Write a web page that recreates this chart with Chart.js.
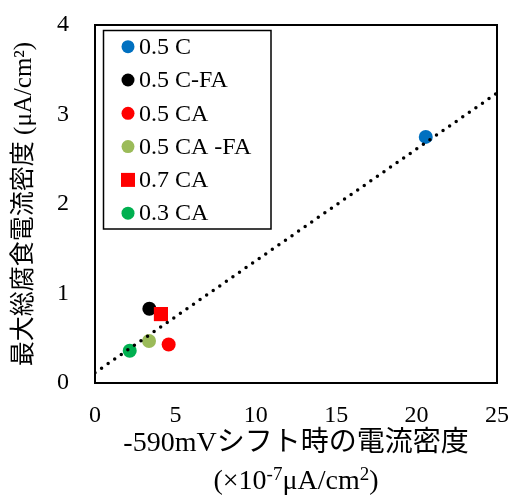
<!DOCTYPE html>
<html>
<head>
<meta charset="utf-8">
<script src="https://cdn.jsdelivr.net/npm/chart.js@4.4.1/dist/chart.umd.min.js"></script>
<style>
  html, body { margin: 0; padding: 0; background: #ffffff; }
  #wrap { width: 514px; height: 497px; }
</style>
</head>
<body>
<div id="wrap"><canvas id="c" width="514" height="497"></canvas></div>
<script>
// ---- data ----
const seriesLabels = ['0.5 C', '0.5 C-FA', '0.5 CA', '0.5 CA -FA', '0.7 CA', '0.3 CA'];
const xValues = [20.57, 3.38, 4.58, 3.36, 4.10, 2.16];
const yValues = [2.75, 0.83, 0.43, 0.47, 0.77, 0.36];
const seriesColors = ['#0070C0', '#000000', '#FF0000', '#9BBB59', '#FF0000', '#00B050'];
const seriesShapes = ['circle', 'circle', 'circle', 'circle', 'rect', 'circle'];
const trendX = [0, 25];
const trendY = [0.115, 3.24];
const xTickValues = [0, 5, 10, 15, 20, 25];
const yTickValues = [0, 1, 2, 3, 4];
const xTitle = '-590mVシフト時の電流密度';
const xSubtitleParts = [
  { t: '(×10', sup: false },
  { t: '-7', sup: true },
  { t: 'μA/cm', sup: false },
  { t: '2', sup: true },
  { t: ')', sup: false }
];
const yTitle = '最大総腐食電流密度 (μA/cm²)';

const FONT = "'Liberation Serif', 'Noto Sans CJK JP', serif";

const datasets = [{
  type: 'line',
  label: 'trend',
  data: trendX.map((x, i) => ({ x: x, y: trendY[i] })),
  showLine: true,
  borderColor: '#000000',
  borderWidth: 3.5,
  borderDash: [0, 8],
  borderCapStyle: 'round',
  pointRadius: 0,
  fill: false,
  order: 0,
  isTrend: true
}];
seriesLabels.forEach((lab, i) => {
  datasets.push({
    label: lab,
    data: [{ x: xValues[i], y: yValues[i] }],
    backgroundColor: seriesColors[i],
    borderColor: seriesColors[i],
    borderWidth: 0,
    pointStyle: seriesShapes[i],
    pointRadius: seriesShapes[i] === 'rect' ? 10 : 7,
    order: seriesShapes[i] === 'rect' ? 1 : 2
  });
});

const framePlugin = {
  id: 'frame',
  afterDraw(chart) {
    const ctx = chart.ctx;
    const a = chart.chartArea;
    ctx.save();
    ctx.strokeStyle = '#000000';
    ctx.lineWidth = 2;
    ctx.strokeRect(a.left, a.top, a.right - a.left, a.bottom - a.top);

    // legend box
    const bx = 103.5, by = 30.5, bw = 167.5, bh = 198.5;
    ctx.fillStyle = '#ffffff';
    ctx.fillRect(bx, by, bw, bh);
    ctx.lineWidth = 1.5;
    ctx.strokeRect(bx, by, bw, bh);
    const sets = chart.data.datasets.filter(d => !d.isTrend);
    ctx.font = '24px ' + FONT;
    ctx.textBaseline = 'middle';
    ctx.textAlign = 'left';
    sets.forEach((d, i) => {
      const cy = 46.7 + i * 33.3;
      ctx.fillStyle = d.backgroundColor;
      if (d.pointStyle === 'rect') {
        ctx.fillRect(128 - 7, cy - 7, 14, 14);
      } else {
        ctx.beginPath();
        ctx.arc(128, cy, 6.5, 0, Math.PI * 2);
        ctx.fill();
      }
      ctx.fillStyle = '#000000';
      ctx.fillText(d.label, 139, cy + 1);
    });

    // second line of the x-axis title
    const size = 28, supSize = 19;
    const cx = (a.left + a.right) / 2;
    const y = 489;
    let total = 0;
    xSubtitleParts.forEach(p => {
      ctx.font = (p.sup ? supSize : size) + 'px ' + FONT;
      total += ctx.measureText(p.t).width;
    });
    let x = cx - total / 2;
    ctx.textBaseline = 'alphabetic';
    ctx.fillStyle = '#000000';
    xSubtitleParts.forEach(p => {
      ctx.font = (p.sup ? supSize : size) + 'px ' + FONT;
      ctx.fillText(p.t, x, p.sup ? y - 9 : y);
      x += ctx.measureText(p.t).width;
    });
    ctx.restore();
  }
};

new Chart(document.getElementById('c'), {
  type: 'scatter',
  data: { datasets: datasets },
  options: {
    responsive: false,
    animation: false,
    devicePixelRatio: 1,
    layout: { padding: { top: 25, right: 17, left: 0, bottom: 0 } },
    plugins: { legend: { display: false }, tooltip: { enabled: false } },
    scales: {
      x: {
        type: 'linear', min: 0, max: 25,
        afterBuildTicks: s => { s.ticks = xTickValues.map(v => ({ value: v })); },
        ticks: { font: { family: FONT, size: 24 }, color: '#000000', padding: 18, maxRotation: 0 },
        grid: { display: false, drawTicks: false },
        border: { display: false },
        title: { display: true, text: xTitle, color: '#000000', font: { family: FONT, size: 28 }, padding: { top: 0, bottom: 37 } },
        afterFit: s => { s.height = 114; s.paddingLeft = 0; s.paddingRight = 0; }
      },
      y: {
        type: 'linear', min: 0, max: 4,
        afterBuildTicks: s => { s.ticks = yTickValues.map(v => ({ value: v })); },
        ticks: { font: { family: FONT, size: 24 }, color: '#000000', padding: 26 },
        grid: { display: false, drawTicks: false },
        border: { display: false },
        title: { display: true, text: yTitle, color: '#000000', font: { family: FONT, size: 25 }, padding: { top: 9, bottom: 0 } },
        afterFit: s => { s.width = 95; s.paddingTop = 0; s.paddingBottom = 0; }
      }
    }
  },
  plugins: [framePlugin]
});
</script>
</body>
</html>
